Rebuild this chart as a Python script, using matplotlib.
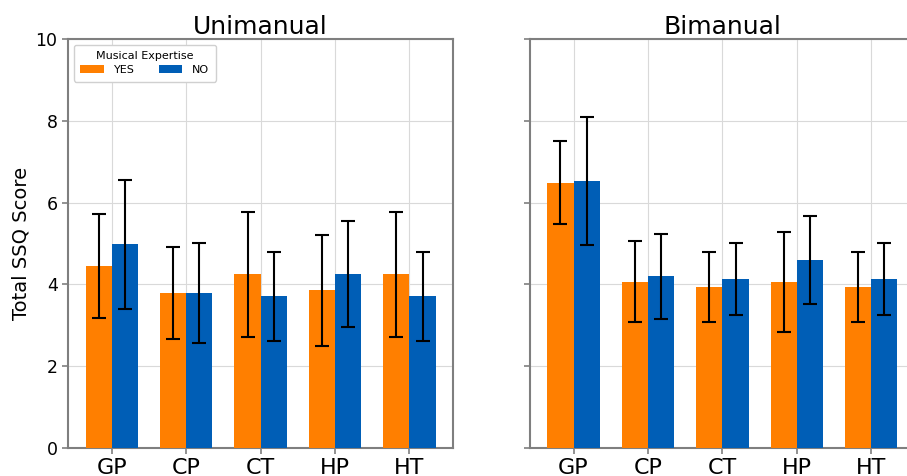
import numpy as np
import matplotlib
matplotlib.use("Agg")
import matplotlib.pyplot as plt

methods = ["GP", "CP", "CT", "HP", "HT"]

# Unimanual: mean and std, musicians (YES) vs non-musicians (NO)
uni_yes = [4.45, 3.78, 4.25, 3.85, 4.25]
uni_yes_err = [1.27, 1.13, 1.53, 1.36, 1.53]
uni_no = [4.98, 3.78, 3.71, 4.25, 3.71]
uni_no_err = [1.58, 1.22, 1.09, 1.29, 1.09]

# Bimanual
bi_yes = [6.49, 4.06, 3.93, 4.06, 3.93]
bi_yes_err = [1.02, 0.99, 0.85, 1.23, 0.85]
bi_no = [6.53, 4.20, 4.12, 4.59, 4.12]
bi_no_err = [1.56, 1.04, 0.88, 1.08, 0.88]

ORANGE = "#FF7F00"
BLUE = "#005EB6"
SPINE = "#7f7f7f"

fig = plt.figure(figsize=(9.07, 4.76), dpi=100)
ax1 = fig.add_axes([0.075, 0.0595, 0.4245, 0.858])
ax2 = fig.add_axes([0.5843, 0.0595, 0.4245, 0.858], sharey=ax1)

x = np.arange(len(methods))
w = 0.35
err_kw = dict(ecolor="black", elinewidth=1.5, capsize=5, capthick=1.5)

for ax, title, yes, yes_e, no, no_e in [
    (ax1, "Unimanual", uni_yes, uni_yes_err, uni_no, uni_no_err),
    (ax2, "Bimanual", bi_yes, bi_yes_err, bi_no, bi_no_err),
]:
    ax.bar(x - w / 2, yes, w, yerr=yes_e, color=ORANGE, label="YES",
           error_kw=err_kw, zorder=3)
    ax.bar(x + w / 2, no, w, yerr=no_e, color=BLUE, label="NO",
           error_kw=err_kw, zorder=3)
    ax.set_xticks(x)
    ax.set_xticklabels(methods, fontsize=16)
    ax.set_title(title, fontsize=18, pad=4)
    ax.grid(True, color="#d9d9d9", linewidth=0.8, zorder=0)
    ax.set_axisbelow(True)
    for spine in ax.spines.values():
        spine.set_color(SPINE)
        spine.set_linewidth(1.5)
    ax.tick_params(axis="both", colors=SPINE, length=4, width=1.2)
    for lbl in ax.get_xticklabels() + ax.get_yticklabels():
        lbl.set_color("black")

ax1.set_ylim(0, 10)
ax1.set_yticks([0, 2, 4, 6, 8, 10])
ax1.tick_params(axis="y", labelsize=12.5)
ax1.set_ylabel("Total SSQ Score", fontsize=14)
plt.setp(ax2.get_yticklabels(), visible=False)

leg = ax1.legend(title="Musical Expertise", loc="upper left", ncol=2,
                 fontsize=8, title_fontsize=8, handlelength=2.1,
                 handleheight=0.8, handletextpad=0.9, columnspacing=2.2,
                 framealpha=1, borderpad=0.6, labelspacing=0.3)
leg.get_frame().set_edgecolor("#d0d0d0")

fig.savefig("out.png", dpi=100)
